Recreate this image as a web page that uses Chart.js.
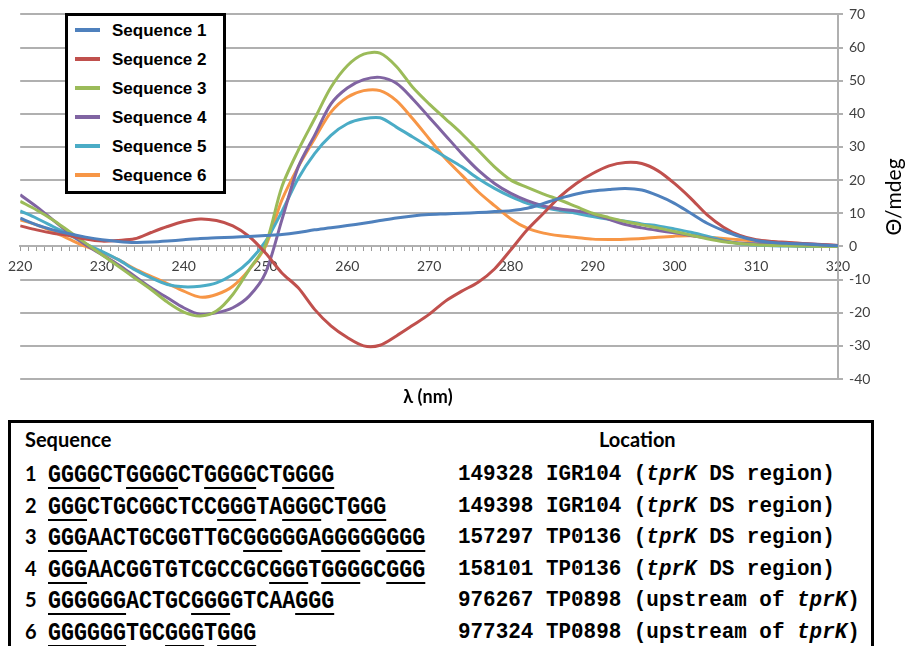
<!DOCTYPE html>
<html>
<head>
<meta charset="utf-8">
<title>CD spectra of G-rich sequences</title>
<script src="https://cdn.jsdelivr.net/npm/chart.js@4.4.1/dist/chart.umd.min.js"></script>
<style>
  body { margin: 0; background: #fff; }
  #page { position: relative; width: 906px; height: 646px; overflow: hidden; background: #fff; }
  #chartBox { position: absolute; left: 0; top: 0; width: 906px; height: 410px; }
  #legend { position: absolute; left: 65px; top: 13px; width: 155px; height: 175px; border: 3px solid #000; background: #fff;
            font: bold 17px "Liberation Sans", Arial, sans-serif; color: #000; }
  #legend .item { position: relative; height: 29px; line-height: 29px; }
  #legend .swatch { position: absolute; left: 7px; top: 12px; width: 25px; height: 4px; }
  #legend .txt { position: absolute; left: 44px; top: 0; white-space: nowrap; }
  #xTitle { position: absolute; left: 328px; top: 385px; width: 200px; text-align: center; font: bold 18px Lato, sans-serif; color: #000; }
  #yTitle { position: absolute; left: 843px; top: 184px; width: 100px; height: 26px; line-height: 26px; text-align: center;
            transform: rotate(-90deg); font: 21px Lato, sans-serif; color: #000; }
  #table { position: absolute; left: 8px; top: 420px; width: 860px; height: 260px; border: 3px solid #000; padding-top: 4px; }
  #table .head { position: relative; height: 34px; line-height: 34px; font: bold 20px Lato, sans-serif; }
  #table .row { position: relative; height: 31.6px; line-height: 31.6px; }
  #table .num { position: absolute; left: 14px; font: bold 20px Lato, sans-serif; }
  #table .seq { position: absolute; left: 37px; white-space: nowrap; font: bold 25.5px "Liberation Mono", monospace;
                transform: scaleX(0.85); transform-origin: 0 50%; }
  #table .seq u { text-decoration-thickness: 2px; text-underline-offset: 5px; }
  #table .loc { position: absolute; left: 447px; white-space: nowrap; font: bold 22.5px "Liberation Mono", monospace;
                transform: scaleX(0.93); transform-origin: 0 50%; }
</style>
</head>
<body>
<div id="page">
  <div id="chartBox"><canvas id="myChart"></canvas></div>
  <div id="legend"></div>
  <div id="xTitle">λ (nm)</div>
  <div id="yTitle">Θ/mdeg</div>
  <div id="table"></div>
</div>
<script>
// wavelength (nm), one reading every 2 nm
var wavelengths = [220,222,224,226,228,230,232,234,236,238,240,242,244,246,248,250,252,254,256,258,
                   260,262,264,266,268,270,272,274,276,278,280,282,284,286,288,290,292,294,296,298,
                   300,302,304,306,308,310,312,314,316,318,320];

// ellipticity (mdeg)
var seq1 = [8.5,6.5,5,3.8,2.8,2,1.5,1.2,1.3,1.6,2,2.4,2.6,2.8,3,3.3,3.6,4.2,5,5.6,
            6.3,7,7.8,8.6,9.2,9.6,9.8,10,10.2,10.5,10.8,11.5,13,14.5,15.8,16.7,17.2,17.5,17,15.3,
            13,10,7,4.8,3,1.8,1.2,0.9,0.7,0.4,0.2];
var seq2 = [6.2,5,4,3.3,2.2,1.6,1.8,2.3,4.2,6,7.5,8.3,7.8,6.2,3,-2,-8,-12.5,-19,-24,
            -27.5,-30,-29.8,-27,-23.8,-20.5,-16.5,-13.5,-10.8,-6.8,-1,5,10,15,19,22,24.3,25.3,25,22.8,
            19,14.5,9.5,5.8,3.3,2,1.5,1.2,0.8,0.5,0.3];
var seq3 = [13.6,11,8,4.5,1,-2.5,-6,-9.5,-13,-16.8,-19.8,-21,-19.5,-14.5,-7,0.5,18,29,38.5,48,
            54.5,58,58.3,54.3,48,43,38.5,34,29,24,20,17.8,15.8,14,12,10,8.7,7.5,6.5,5.6,
            4.5,3.4,2.3,1.4,0.9,0.5,0.3,0.2,0.1,0,0];
var seq4 = [15.6,12,8,4,0.5,-2.5,-5.5,-9,-12.5,-15.5,-18.5,-20.5,-20,-18.5,-15,-8,8,24,33.5,43,
            47.8,50.3,51,49.2,44.5,39,33.5,28,23,19,16,13.8,12.2,11.3,10.7,9.8,8.2,6.6,5.6,4.8,
            4.1,3.3,2.5,1.6,1,0.8,0.8,0.9,0.8,0.6,0.3];
var seq5 = [10.7,8.5,6,3.5,0.8,-1.5,-4,-7,-9.5,-11.5,-12.2,-12,-11,-8.5,-4.5,1.5,10.5,20.5,28,33.5,
            37,38.5,38.8,36,33,30,27,24,20.5,17.5,15,13,11.7,10.8,10,9,8.2,7.6,6.8,6.2,
            5.3,4.3,3.1,1.8,0.8,0.4,0.2,0.1,0,0,0];
var seq6 = [8,6.5,4.5,2.2,0,-1.8,-4,-6.8,-9,-11.2,-13.5,-15.3,-14.5,-12,-7,0,14,24,32.5,40.5,
            45,47,47,44,38.5,32.5,26.5,21.5,16.5,12.3,8.3,5.5,4,3.2,2.7,2.2,2.1,2.2,2.4,2.8,
            3.1,3.2,2.8,2.4,2,1.6,1.3,1,0.5,0.2,0];

var seriesNames = ['Sequence 1','Sequence 2','Sequence 3','Sequence 4','Sequence 5','Sequence 6'];
var seriesColors = ['#4F81BD','#C0504D','#9BBB59','#8064A2','#4BACC6','#F79646'];
var seriesValues = [seq1, seq2, seq3, seq4, seq5, seq6];

// axis ranges
var xMin = 220, xMax = 320;
var yMin = -40, yMax = 70;

// table below the chart, [..] = underlined G run, *..* = italic
var tableHeads = ['Sequence', 'Location'];
var seqNumbers = ['1','2','3','4','5','6'];
var sequences = [
	'[GGGG]CT[GGGG]CT[GGGG]CT[GGGG]',
	'[GGG]CTGCGGCTCC[GGG]TA[GGG]CT[GGG]',
	'[GGG]AACTGCGGTTGC[GGG]GGA[GGG]GG[GGG]',
	'[GGG]AACGGTGTCGCCGC[GGG]T[GGG]GC[GGG]',
	'[GGGGGG]ACTGC[GGG]GTCAA[GGG]',
	'[GGGGGG]TGC[GGG]T[GGG]'
];
var locations = [
	'149328 IGR104 (*tprK* DS region)',
	'149398 IGR104 (*tprK* DS region)',
	'157297 TP0136 (*tprK* DS region)',
	'158101 TP0136 (*tprK* DS region)',
	'976267 TP0898 (upstream of *tprK*)',
	'977324 TP0898 (upstream of *tprK*)'
];

function buildLegend() {
	var box = document.getElementById('legend');
	for (var i = 0; i < seriesNames.length; i++) {
		var item = document.createElement('div');
		item.className = 'item';
		item.innerHTML = '<span class="swatch" style="background:' + seriesColors[i] + '"></span>' +
			'<span class="txt">' + seriesNames[i] + '</span>';
		box.appendChild(item);
	}
}

function buildTable() {
	var t = document.getElementById('table');
	var head = document.createElement('div');
	head.className = 'head';
	head.innerHTML = '<span style="position:absolute;left:14px">' + tableHeads[0] + '</span>' +
		'<span style="position:absolute;left:588px">' + tableHeads[1] + '</span>';
	t.appendChild(head);
	for (var i = 0; i < sequences.length; i++) {
		var row = document.createElement('div');
		row.className = 'row';
		var s = sequences[i].replace(/\[/g, '<u>').replace(/\]/g, '</u>');
		var l = locations[i].replace(/\*(.*?)\*/g, '<i>$1</i>');
		row.innerHTML = '<span class="num">' + seqNumbers[i] + '</span>' +
			'<span class="seq">' + s + '</span>' +
			'<span class="loc">' + l + '</span>';
		t.appendChild(row);
	}
}

function drawChart() {
	var ctx = document.getElementById('myChart').getContext('2d');
	var datasets = [];
	for (var i = 0; i < seriesValues.length; i++) {
		datasets.push({
			label: seriesNames[i],
			data: wavelengths.map(function(w, k) { return { x: w, y: seriesValues[i][k] }; }),
			borderColor: seriesColors[i],
			backgroundColor: seriesColors[i],
			borderWidth: 3,
			pointRadius: 0,
			tension: 0.3,
			fill: false
		});
	}
	var gridColor = '#b0b0b0';
	var chart = new Chart(ctx, {
		type: 'line',
		data: { datasets: datasets },
		options: {
			responsive: true,
			maintainAspectRatio: false,
			animation: false,
			layout: { padding: { left: 20, top: 14, right: 0, bottom: 31 } },
			plugins: {
				legend: { display: false },
				tooltip: { enabled: false }
			},
			scales: {
				x: {
					type: 'linear',
					position: { y: 0 },
					min: xMin,
					max: xMax,
					grid: { display: true, drawOnChartArea: false, drawTicks: true, tickLength: 4, color: '#9a9a9a', lineWidth: 1 },
					border: { display: true, color: gridColor, width: 2 },
					ticks: {
						stepSize: 1,
						autoSkip: false,
						maxRotation: 0,
						padding: 8,
						color: '#404040',
						font: { family: 'Lato', size: 14 },
						callback: function(v) { return v % 10 === 0 ? String(v) : ''; }
					}
				},
				y: {
					type: 'linear',
					position: 'right',
					min: yMin,
					max: yMax,
					grid: { color: gridColor, lineWidth: 2, tickLength: 5 },
					border: { display: true, color: gridColor, width: 2 },
					ticks: {
						stepSize: 10,
						padding: 6,
						color: '#404040',
						font: { family: 'Lato', size: 14 }
					},
					afterFit: function(scale) { scale.width = 68; }
				}
			}
		}
	});
}

buildLegend();
buildTable();
drawChart();
</script>
</body>
</html>
